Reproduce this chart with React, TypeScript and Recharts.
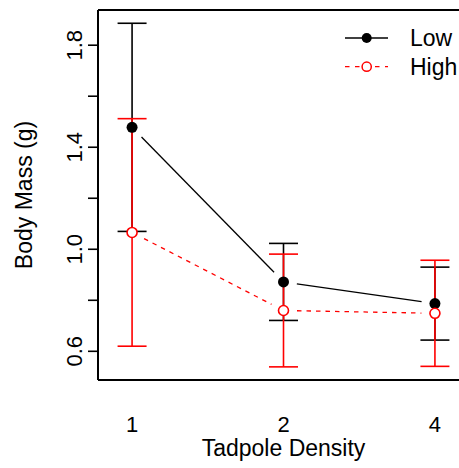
import React from 'react';
import { ComposedChart, Line, Scatter, XAxis, YAxis, ErrorBar, ReferenceLine, Legend } from 'recharts';

// ---- data ----
const densityLabels = ['1', '2', '4'];
const positions = [1, 2, 3];
const seriesNames = ['Low', 'High'];
const lowMean = [1.478, 0.872, 0.787];
const lowErr = [0.408, 0.151, 0.143];
const highMean = [1.066, 0.76, 0.749];
const highErr = [0.446, 0.221, 0.208];
const yTicks = [0.6, 0.8, 1.0, 1.2, 1.4, 1.6, 1.8];
const yLabelled = [0.6, 1.0, 1.4, 1.8];
const xTitle = 'Tadpole Density';
const yTitle = 'Body Mass (g)';

const X_DOMAIN: [number, number] = [0.775, 3.225];
const Y_DOMAIN: [number, number] = [0.4875, 1.938];

const data = positions.map((p, i) => ({
  pos: p,
  label: densityLabels[i],
  low: lowMean[i],
  lowErr: lowErr[i],
  high: highMean[i],
  highErr: highErr[i],
}));

const FONT = '"Liberation Sans", Arial, Helvetica, sans-serif';
const RED = '#ff0000';
const GAP = 13.5;

const YTick = (props: any) => {
  const { x, y, payload } = props;
  const v = payload.value as number;
  if (!yLabelled.some((t) => Math.abs(t - v) < 1e-9)) return <g />;
  return (
    <text
      x={x}
      y={y}
      transform={`rotate(-90 ${x} ${y})`}
      textAnchor="middle"
      fontSize={22}
      fontFamily={FONT}
      fill="#000"
    >
      {v.toFixed(1)}
    </text>
  );
};

const YTitle = (props: any) => {
  const vb = props.viewBox || { x: 38, y: 10, width: 60, height: 370 };
  const cx = vb.x - 14;
  const cy = vb.y + vb.height / 2;
  return (
    <text
      x={cx}
      y={cy}
      transform={`rotate(-90 ${cx} ${cy})`}
      textAnchor="middle"
      dominantBaseline="central"
      fontSize={23}
      fontFamily={FONT}
      fill="#000"
    >
      {yTitle}
    </text>
  );
};

// R type="b" style: segments between consecutive points, with a gap around each point
const makeSegment = (color: string, dash?: string) => (p: any) => {
  const { index, points, cx, cy } = p;
  const key = `seg-${color}-${index}`;
  if (!points || index >= points.length - 1) return <g key={key} />;
  const n = points[index + 1];
  const dx = n.x - cx;
  const dy = n.y - cy;
  const L = Math.hypot(dx, dy);
  if (L <= 2 * GAP) return <g key={key} />;
  const ux = dx / L;
  const uy = dy / L;
  return (
    <line
      key={key}
      x1={cx + ux * GAP}
      y1={cy + uy * GAP}
      x2={n.x - ux * GAP}
      y2={n.y - uy * GAP}
      stroke={color}
      strokeWidth={1.3}
      strokeDasharray={dash}
      fill="none"
    />
  );
};

const Empty = () => <g />;
const LowDot = (p: any) => <circle cx={p.cx} cy={p.cy} r={5.5} fill="#000" />;
const HighDot = (p: any) => (
  <circle cx={p.cx} cy={p.cy} r={5} fill="#fff" stroke={RED} strokeWidth={1.6} />
);

const LegendBox = () => (
  <svg width={124} height={64} style={{ display: 'block', overflow: 'visible' }}>
    <line x1={10} y1={18} x2={53} y2={18} stroke="#000" strokeWidth={1.3} />
    <circle cx={31.7} cy={18} r={5} fill="#000" />
    <text x={75} y={18} dominantBaseline="central" fontSize={23} fontFamily={FONT} fill="#000">
      {seriesNames[0]}
    </text>
    <line x1={10} y1={46.7} x2={53} y2={46.7} stroke={RED} strokeWidth={1.3} strokeDasharray="4.5 5.5" />
    <circle cx={31.7} cy={46.7} r={4.6} fill="#fff" stroke={RED} strokeWidth={1.5} />
    <text x={75} y={46.7} dominantBaseline="central" fontSize={23} fontFamily={FONT} fill="#000">
      {seriesNames[1]}
    </text>
  </svg>
);

export default function App() {
  return (
    <div style={{ position: 'absolute', left: 0, top: 0, width: 459, height: 468, background: '#fff' }}>
      <ComposedChart
        width={459}
        height={468}
        data={data}
        margin={{ top: 10, right: -10, bottom: 58, left: 38 }}
      >
        <XAxis
          dataKey="pos"
          type="number"
          domain={X_DOMAIN}
          ticks={positions}
          tickFormatter={(v: number) => densityLabels[positions.indexOf(v)]}
          axisLine={{ stroke: '#000', strokeWidth: 2 }}
          tickLine={false}
          tickSize={0}
          tickMargin={36}
          tick={{ fill: '#000', fontSize: 22, fontFamily: FONT }}
          height={30}
          allowDataOverflow
          label={{ value: xTitle, position: 'bottom', offset: 30, fill: '#000', fontSize: 23, fontFamily: FONT }}
        />
        <YAxis
          type="number"
          domain={Y_DOMAIN}
          ticks={yTicks}
          allowDataOverflow
          width={60}
          axisLine={{ stroke: '#000', strokeWidth: 2 }}
          tickLine={{ stroke: '#000', strokeWidth: 1.6 }}
          tickSize={10}
          tickMargin={6}
          tick={YTick}
          label={{ content: YTitle }}
        />
        <ReferenceLine y={Y_DOMAIN[1]} stroke="#000" strokeWidth={2} />
        <Legend
          layout="horizontal"
          verticalAlign="middle"
          align="center"
          content={LegendBox}
          wrapperStyle={{ position: 'absolute', left: 335, top: 20, width: 124, height: 64, margin: 0 }}
        />
        <Line
          dataKey="low"
          type="linear"
          stroke="none"
          dot={makeSegment('#000')}
          activeDot={false}
          isAnimationActive={false}
          legendType="none"
        />
        <Line
          dataKey="high"
          type="linear"
          stroke="none"
          dot={makeSegment(RED, '4.5 5')}
          activeDot={false}
          isAnimationActive={false}
          legendType="none"
        />
        <Scatter dataKey="low" shape={Empty} isAnimationActive={false} legendType="none">
          <ErrorBar dataKey="lowErr" direction="y" width={14.5} stroke="#000" strokeWidth={1.6} isAnimationActive={false} />
        </Scatter>
        <Scatter dataKey="high" shape={Empty} isAnimationActive={false} legendType="none">
          <ErrorBar dataKey="highErr" direction="y" width={14.5} stroke={RED} strokeWidth={1.6} isAnimationActive={false} />
        </Scatter>
        <Scatter dataKey="low" shape={LowDot} isAnimationActive={false} legendType="none" />
        <Scatter dataKey="high" shape={HighDot} isAnimationActive={false} legendType="none" />
      </ComposedChart>
    </div>
  );
}
